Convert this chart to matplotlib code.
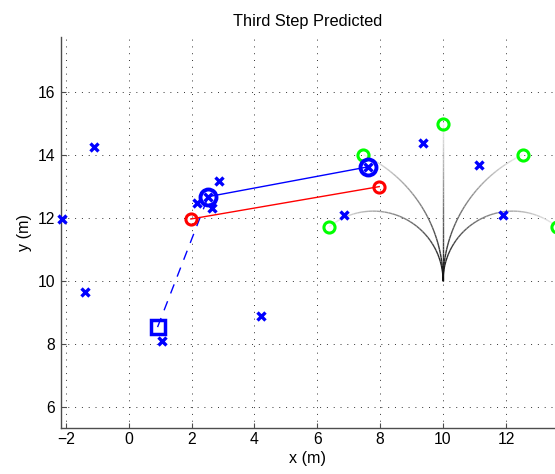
import numpy as np
import matplotlib.pyplot as plt
from matplotlib.patches import Arc
from matplotlib.collections import LineCollection

plt.rcParams["font.family"] = ["Liberation Sans", "DejaVu Sans"]

# landmarks (blue x)
land_x = [-1.10, -2.13, -1.39, 1.05, 4.22, 2.88, 2.18, 2.64, 2.53, 6.86, 7.62, 9.37, 11.15, 11.90]
land_y = [14.26, 11.97, 9.66, 8.10, 8.89, 13.19, 12.47, 12.31, 12.68, 12.10, 13.63, 14.38, 13.69, 12.10]

# candidate end points of the predicted paths (green circles)
cand_x = [6.38, 7.46, 10.00, 12.54, 13.62]
cand_y = [11.73, 14.01, 15.00, 14.01, 11.73]

# predicted paths leave (10, 10) heading up; signed turn radius (0 = straight)
path_start = (10.0, 10.0)
path_radius = [2.22, 4.45, 0.0, -4.45, -2.22]
path_length = 5.0

# red: estimated pose track, blue: predicted pose track
red_x = [1.98, 7.97]
red_y = [11.97, 13.00]
blue_x = [2.53, 7.62]
blue_y = [12.68, 13.63]

# start square (dashed link to first predicted pose)
start_x = [0.92]
start_y = [8.53]

fig = plt.figure(figsize=(5.55, 4.74), dpi=100)
ax = fig.add_axes([60.7 / 555, 46 / 474, 1 - 60.7 / 555, (428 - 36.7) / 474])

# fading paths
n_seg = 40
for r in path_radius:
    greys = np.linspace(0.05, 0.93, n_seg)
    if r == 0:
        ys = path_start[1] + np.linspace(0, path_length, n_seg + 1)
        segs = [[(path_start[0], ys[i]), (path_start[0], ys[i + 1])] for i in range(n_seg)]
        lc = LineCollection(segs, colors=[(g, g, g) for g in greys], linewidths=1.0, zorder=1)
        ax.add_collection(lc)
        continue
    sweep = np.degrees(path_length / abs(r))
    cx = path_start[0] - r
    step = sweep / n_seg
    for i, g in enumerate(greys):
        if r > 0:
            t1, t2 = i * step, (i + 1) * step
        else:
            t1, t2 = 180 - (i + 1) * step, 180 - i * step
        ax.add_patch(Arc((cx, path_start[1]), 2 * abs(r), 2 * abs(r), theta1=t1, theta2=t2,
                         color=(g, g, g), lw=1.0, zorder=1))

ax.plot([start_x[0], blue_x[0]], [start_y[0], blue_y[0]], color="blue", lw=1.0,
        linestyle=(0, (7, 6)), zorder=2)
ax.plot(red_x, red_y, color="red", lw=1.0, zorder=2)
ax.plot(blue_x, blue_y, color="blue", lw=1.0, zorder=2)

ax.plot(cand_x, cand_y, "o", ls="none", mfc="none", mec=(0, 1, 0), ms=8, mew=2.2,
        clip_on=False, zorder=3)
ax.plot(red_x, red_y, "o", ls="none", mfc="none", mec="red", ms=8, mew=2.2, zorder=3)
ax.plot(blue_x, blue_y, "o", ls="none", mfc="none", mec="blue", ms=11.5, mew=2.8, zorder=3)
ax.plot(start_x, start_y, "s", ls="none", mfc="none", mec="blue", ms=9.5, mew=2.5, zorder=3)
ax.plot(land_x, land_y, "x", ls="none", color="blue", ms=6, mew=2.4, clip_on=False, zorder=4)

ax.set_xlim(-2.16, 13.56)
ax.set_ylim(5.32, 17.77)
ax.set_xticks(range(-2, 13, 2))
ax.set_yticks(range(6, 17, 2))

ax.grid(True, color="0.2", linestyle=(0, (1, 6)), lw=0.7)
ax.set_axisbelow(True)

for s in ["top", "right"]:
    ax.spines[s].set_visible(False)
for s in ["left", "bottom"]:
    ax.spines[s].set_color("0.3")
    ax.spines[s].set_linewidth(1.0)

ax.tick_params(direction="in", length=3.5, width=0.8, color="0.3", labelsize=11.3)
ax.tick_params(axis="x", pad=3)
ax.tick_params(axis="y", pad=4)

ax.set_xlabel("x (m)", fontsize=11.6, labelpad=3)
ax.set_ylabel("y (m)", fontsize=11.6, labelpad=4)
ax.set_title("Third Step Predicted", fontsize=11.8, pad=8)

fig.savefig("out.png", dpi=100)
